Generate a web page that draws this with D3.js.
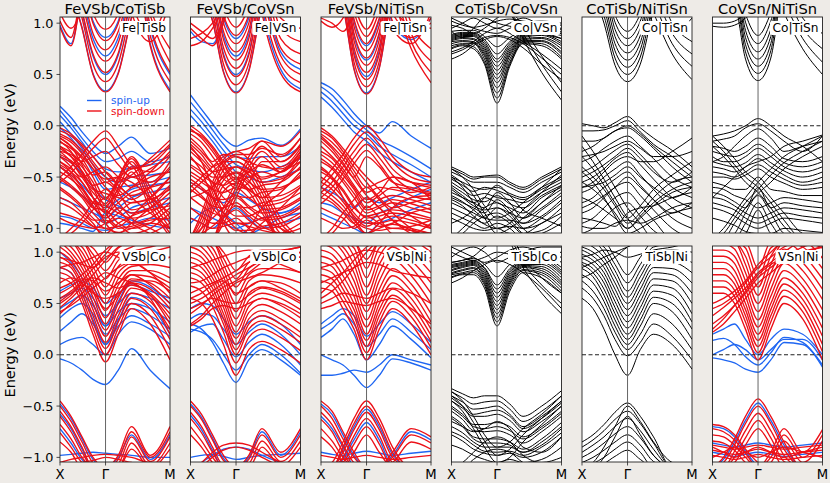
<!DOCTYPE html>
<html>
<head>
<meta charset="utf-8">
<script src="https://cdn.jsdelivr.net/npm/d3@7"></script>
<style>
  body { margin: 0; background: #eeebe7; }
  svg { display: block; font-family: "DejaVu Sans", sans-serif; }
</style>
</head>
<body>
<div id="chart"></div>
<script>
//--------------------------------------------------------------------------
//  Slab band structures, X - Γ - M, energies in eV
//--------------------------------------------------------------------------

// k-path sample positions (X = 0, Γ = 0.414, M = 1)
var kPath = [0, 0.1, 0.2, 0.3, 0.414, 0.53, 0.65, 0.82, 1.0];
var xTickPos = [0, 0.414, 1.0];
var xTickLabels = ["X", "Γ", "M"];
var yTicks = [1.0, 0.5, 0.0, -0.5, -1.0];
var titles = ["FeVSb/CoTiSb", "FeVSb/CoVSn", "FeVSb/NiTiSn", "CoTiSb/CoVSn", "CoTiSb/NiTiSn", "CoVSn/NiTiSn"];
var labels = ["Fe|TiSb", "Fe|VSn", "Fe|TiSn", "Co|VSn", "Co|TiSn", "Co|TiSn",
              "VSb|Co", "VSb|Co", "VSb|Ni", "TiSb|Co", "TiSb|Ni", "VSn|Ni"];
var legendLabels = ["spin-up", "spin-down"];

// ---- FeVSb/CoTiSb, Fe|TiSb
var p1Up = [
  [1.6,1.3,0.96,0.51,0.34,0.52,1.06,1.6,1.9],
  [1.8,1.5,1.1,0.68,0.5,0.69,1.23,1.8,1.9],
  [1.8,1.5,1.25,0.85,0.68,0.86,1.35,1.8,1.9],
  [1.8,1.6,1.4,1.02,0.86,1.02,1.52,1.8,1.9],
  [0.98,0.8,1.3,1.8,1.9,1.9,1.9,1.9,1.9],
  [1.9,1.9,1.9,1.9,1.9,1.9,1.85,0.8,0.35],
  [1.9,1.9,1.9,1.9,1.9,1.9,1.9,0.95,0.5],
  [0.19,0.08,-0.06,-0.18,-0.27,-0.2,-0.11,-0.27,-0.22],
  [0.15,0.02,-0.12,-0.25,-0.35,-0.32,-0.25,-0.35,-0.3],
  [0.10,-0.02,-0.16,-0.3,-0.42,-0.45,-0.4,-0.38,-0.35],
  [0.04,-0.08,-0.22,-0.38,-0.5,-0.55,-0.5,-0.48,-0.45],
  [-0.02,-0.12,-0.26,-0.45,-0.62,-0.6,-0.58,-0.55,-0.5],
  [-0.88,-0.9,-0.95,-1.0,-1.02,-0.98,-0.95,-0.9,-0.92],
  [-0.7,-0.75,-0.8,-0.85,-0.9,-0.8,-0.7,-0.65,-0.6],
  [-0.95,-0.97,-1.0,-1.03,-0.85,-0.88,-0.92,-0.97,-1.0],
  [-0.4,-0.48,-0.58,-0.7,-0.8,-0.72,-0.62,-0.58,-0.55],
  [-0.55,-0.6,-0.68,-0.78,-0.95,-0.9,-0.8,-0.75,-0.7],
  [-0.3,-0.36,-0.46,-0.6,-0.72,-0.78,-0.85,-0.8,-0.75]
];
var p1Dn = [
  [1.6,1.3,0.95,0.50,0.33,0.51,1.05,1.6,1.9],
  [1.7,1.4,1.05,0.60,0.43,0.61,1.15,1.7,1.9],
  [1.8,1.5,1.12,0.70,0.52,0.71,1.25,1.8,1.9],
  [1.8,1.5,1.2,0.80,0.63,0.81,1.3,1.8,1.9],
  [1.8,1.5,1.3,0.90,0.74,0.92,1.4,1.8,1.9],
  [1.8,1.6,1.4,1.0,0.83,1.0,1.5,1.8,1.9],
  [1.8,1.6,1.5,1.1,0.94,1.1,1.6,1.8,1.9],
  [0.96,0.78,1.3,1.8,1.9,1.9,1.9,1.9,1.9],
  [1.02,0.86,1.35,1.9,1.9,1.9,1.9,1.9,1.9],
  [1.1,0.95,1.2,1.9,1.9,1.9,1.9,1.9,1.9],
  [1.9,1.9,1.9,1.9,1.9,1.9,1.8,0.78,0.33],
  [1.9,1.9,1.9,1.9,1.9,1.9,1.9,0.88,0.43],
  [1.9,1.9,1.9,1.9,1.9,1.9,1.9,0.98,0.52],
  [1.9,1.9,1.9,1.9,1.9,1.9,1.9,1.08,0.62],
  [1.9,1.9,1.9,1.9,1.9,1.9,1.9,1.15,0.75],
  [1.9,1.9,1.9,1.9,1.9,1.6,1.1,0.82,1.2],
  [1.9,1.9,1.9,1.9,1.9,1.7,1.2,0.9,1.3],
  [-0.5,-0.4,-0.28,-0.15,-0.05,-0.2,-0.38,-0.45,-0.3],
  [-0.55,-0.46,-0.34,-0.22,-0.12,-0.27,-0.42,-0.35,-0.18],
  [-0.05,-0.1,-0.2,-0.35,-0.5,-0.62,-0.72,-0.6,-0.4],
  [-0.1,-0.16,-0.27,-0.42,-0.6,-0.68,-0.6,-0.45,-0.25],
  [-0.16,-0.22,-0.32,-0.5,-0.7,-0.55,-0.48,-0.32,-0.14],
  [-0.22,-0.3,-0.4,-0.55,-0.78,-0.62,-0.5,-0.55,-0.35],
  [-0.3,-0.36,-0.48,-0.62,-0.66,-0.7,-0.75,-0.7,-0.5],
  [-0.38,-0.45,-0.55,-0.7,-0.85,-0.75,-0.65,-0.6,-0.55],
  [-0.45,-0.52,-0.62,-0.78,-0.9,-0.8,-0.85,-0.8,-0.65],
  [-0.52,-0.6,-0.7,-0.85,-0.95,-0.9,-0.95,-0.9,-0.75],
  [-0.6,-0.68,-0.78,-0.9,-1.0,-0.98,-1.05,-1.0,-0.85],
  [-0.7,-0.75,-0.85,-0.95,-1.1,-1.05,-1.1,-1.05,-0.95],
  [-1.1,-1.0,-0.9,-0.75,-0.62,-0.75,-0.9,-1.0,-1.1],
  [-1.1,-1.05,-0.95,-0.82,-0.7,-0.82,-0.95,-1.05,-1.1],
  [-0.9,-0.95,-0.98,-1.0,-0.95,-0.85,-0.75,-0.72,-0.62],
  [-0.35,-0.42,-0.5,-0.45,-0.4,-0.5,-0.6,-0.5,-0.45],
  [-0.25,-0.28,-0.35,-0.3,-0.25,-0.38,-0.5,-0.42,-0.28],
  [-0.08,-0.14,-0.24,-0.38,-0.55,-0.5,-0.42,-0.38,-0.2],
  [-0.2,-0.26,-0.36,-0.48,-0.45,-0.58,-0.68,-0.6,-0.42],
  [-0.28,-0.34,-0.44,-0.58,-0.55,-0.65,-0.82,-0.75,-0.58],
  [-0.4,-0.48,-0.6,-0.75,-0.78,-0.85,-0.9,-0.85,-0.7],
  [-0.5,-0.58,-0.68,-0.8,-0.82,-0.95,-1.0,-0.95,-0.8],
  [-0.62,-0.7,-0.8,-0.92,-0.92,-1.0,-0.98,-0.92,-0.9],
  [-0.75,-0.8,-0.88,-0.98,-1.05,-0.95,-0.88,-0.82,-0.78],
  [-0.85,-0.88,-0.92,-0.98,-1.0,-1.04,-1.0,-0.95,-1.0],
  [-0.15,-0.25,-0.45,-0.7,-0.95,-1.05,-0.95,-0.8,-0.6],
  [-0.12,-0.2,-0.38,-0.6,-0.85,-0.98,-0.88,-0.7,-0.5],
  [-0.3,-0.4,-0.55,-0.7,-0.8,-0.55,-0.35,-0.7,-1.0],
  [-0.25,-0.35,-0.5,-0.65,-0.76,-0.52,-0.32,-0.65,-0.95],
  [-0.35,-0.45,-0.6,-0.75,-0.84,-0.6,-0.4,-0.75,-1.05],
  [-0.4,-0.5,-0.65,-0.8,-0.88,-0.65,-0.45,-0.8,-1.08],
  [-0.2,-0.3,-0.45,-0.6,-0.72,-0.5,-0.3,-0.6,-0.9],
  [-0.02,-0.08,-0.18,-0.3,-0.45,-0.58,-0.7,-0.85,-1.0],
  [-0.12,-0.2,-0.3,-0.42,-0.52,-0.5,-0.55,-0.7,-0.85]
];

// ---- FeVSb/CoVSn, Fe|VSn
var p2Up = [
  [1.6,1.3,1.03,0.53,0.33,0.54,1.2,1.8,1.9],
  [1.7,1.45,1.2,0.7,0.5,0.71,1.36,1.8,1.9],
  [1.8,1.5,1.38,0.88,0.68,0.89,1.52,1.8,1.9],
  [1.8,1.6,1.5,1.05,0.85,1.05,1.6,1.8,1.9],
  [0.92,0.82,0.8,1.02,1.5,1.9,1.9,1.9,1.9],
  [1.9,1.9,1.9,1.9,1.9,1.9,1.15,0.55,0.36],
  [1.9,1.9,1.9,1.9,1.9,1.9,1.35,0.72,0.55],
  [0.3,0.16,0.02,-0.12,-0.2,-0.14,-0.12,-0.19,-0.03],
  [0.23,0.1,-0.04,-0.18,-0.3,-0.32,-0.3,-0.3,-0.2],
  [0.16,0.04,-0.1,-0.24,-0.38,-0.42,-0.45,-0.4,-0.32],
  [0.1,-0.02,-0.15,-0.3,-0.45,-0.5,-0.55,-0.5,-0.42],
  [-0.8,-0.85,-0.9,-0.95,-1.0,-0.95,-0.9,-0.85,-0.8],
  [-0.9,-0.95,-1.0,-0.9,-0.8,-0.9,-1.0,-0.95,-0.9],
  [-0.95,-0.85,-0.8,-0.85,-0.95,-1.05,-1.0,-0.9,-0.85],
  [-0.55,-0.62,-0.7,-0.75,-0.65,-0.72,-0.8,-0.85,-0.75]
];
var p2Dn = [
  [1.6,1.3,1.02,0.52,0.32,0.53,1.18,1.8,1.9],
  [1.7,1.4,1.1,0.6,0.4,0.61,1.26,1.8,1.9],
  [1.7,1.45,1.18,0.68,0.48,0.69,1.34,1.8,1.9],
  [1.7,1.5,1.26,0.76,0.56,0.77,1.42,1.8,1.9],
  [1.8,1.5,1.34,0.84,0.64,0.85,1.5,1.8,1.9],
  [1.8,1.6,1.42,0.92,0.72,0.93,1.58,1.8,1.9],
  [1.8,1.6,1.5,1.0,0.8,1.0,1.6,1.8,1.9],
  [1.8,1.6,1.55,1.08,0.88,1.08,1.6,1.8,1.9],
  [1.8,1.6,1.6,1.16,0.96,1.16,1.6,1.8,1.9],
  [0.95,0.85,0.78,1.0,1.5,1.9,1.9,1.9,1.9],
  [1.0,0.92,0.85,1.05,1.6,1.9,1.9,1.9,1.9],
  [0.85,0.9,1.0,1.2,1.6,1.9,1.9,1.9,1.9],
  [0.78,0.82,0.95,1.15,1.5,1.9,1.9,1.9,1.9],
  [1.9,1.9,1.9,1.9,1.9,1.9,1.1,0.51,0.33],
  [1.9,1.9,1.9,1.9,1.9,1.9,1.2,0.6,0.42],
  [1.9,1.9,1.9,1.9,1.9,1.9,1.3,0.68,0.5],
  [1.9,1.9,1.9,1.9,1.9,1.9,1.4,0.76,0.6],
  [1.9,1.9,1.9,1.9,1.9,1.9,1.5,0.85,0.7],
  [1.9,1.9,1.9,1.9,1.9,1.9,1.6,0.95,0.82],
  [1.9,1.9,1.9,1.9,1.9,1.9,1.7,1.05,0.95],
  [0.0,-0.08,-0.2,-0.35,-0.5,-0.62,-0.7,-0.55,-0.35],
  [-0.03,-0.12,-0.25,-0.4,-0.55,-0.5,-0.45,-0.5,-0.3],
  [-0.6,-0.5,-0.4,-0.3,-0.25,-0.22,-0.15,-0.2,-0.05],
  [-0.65,-0.55,-0.45,-0.35,-0.28,-0.28,-0.22,-0.28,-0.12],
  [-0.08,-0.16,-0.3,-0.45,-0.62,-0.55,-0.35,-0.35,-0.2],
  [-0.12,-0.22,-0.35,-0.28,-0.3,-0.35,-0.4,-0.42,-0.25],
  [-0.18,-0.28,-0.4,-0.35,-0.35,-0.42,-0.5,-0.45,-0.35],
  [-0.25,-0.35,-0.45,-0.42,-0.4,-0.48,-0.55,-0.52,-0.42],
  [-0.32,-0.4,-0.5,-0.5,-0.46,-0.55,-0.62,-0.6,-0.5],
  [-0.4,-0.48,-0.55,-0.58,-0.52,-0.62,-0.7,-0.68,-0.58],
  [-0.48,-0.55,-0.62,-0.65,-0.6,-0.7,-0.78,-0.75,-0.65],
  [-0.55,-0.62,-0.7,-0.72,-0.68,-0.78,-0.85,-0.82,-0.72],
  [-0.62,-0.7,-0.78,-0.8,-0.75,-0.85,-0.92,-0.9,-0.8],
  [-0.7,-0.78,-0.85,-0.88,-0.82,-0.92,-1.0,-0.98,-0.88],
  [-0.8,-0.88,-0.95,-0.95,-0.9,-1.0,-1.08,-1.05,-0.95],
  [-1.1,-1.0,-0.9,-0.8,-0.7,-0.8,-0.9,-1.0,-1.1],
  [-1.1,-1.05,-0.98,-0.88,-0.78,-0.88,-0.98,-1.05,-1.1],
  [-0.3,-0.45,-0.7,-0.95,-1.1,-1.0,-0.8,-0.65,-0.45],
  [-0.2,-0.35,-0.6,-0.85,-1.0,-1.05,-0.95,-0.8,-0.6],
  [-0.05,-0.1,-0.22,-0.38,-0.52,-0.45,-0.38,-0.45,-0.25],
  [-0.15,-0.25,-0.38,-0.52,-0.58,-0.62,-0.58,-0.55,-0.4],
  [-0.22,-0.32,-0.45,-0.6,-0.68,-0.7,-0.65,-0.62,-0.48],
  [-0.38,-0.45,-0.55,-0.7,-0.78,-0.8,-0.75,-0.72,-0.6],
  [-0.45,-0.52,-0.62,-0.78,-0.88,-0.88,-0.82,-0.8,-0.7],
  [-0.52,-0.6,-0.7,-0.85,-0.95,-0.95,-0.9,-0.88,-0.78],
  [-0.58,-0.68,-0.8,-0.92,-1.02,-1.02,-0.98,-0.95,-0.85],
  [-0.9,-0.95,-1.0,-0.98,-0.95,-0.98,-1.02,-1.05,-1.0],
  [-0.7,-0.66,-0.6,-0.5,-0.4,-0.45,-0.52,-0.45,-0.3],
  [-1.1,-0.85,-0.55,-0.33,-0.25,-0.33,-0.55,-0.9,-1.1],
  [-1.1,-0.9,-0.6,-0.38,-0.3,-0.38,-0.6,-0.95,-1.1],
  [-1.1,-0.95,-0.65,-0.43,-0.35,-0.43,-0.65,-1.0,-1.1],
  [-1.1,-1.0,-0.7,-0.48,-0.4,-0.48,-0.7,-1.05,-1.1],
  [-1.1,-1.05,-0.75,-0.53,-0.45,-0.53,-0.75,-1.1,-1.1],
  [-1.1,-1.1,-0.8,-0.58,-0.5,-0.58,-0.8,-1.1,-1.1],
  [-1.1,-1.1,-0.85,-0.64,-0.56,-0.64,-0.85,-1.1,-1.1],
  [-1.1,-1.1,-1.1,-0.8,-0.55,-0.3,-0.15,-0.3,-0.12],
  [-1.1,-1.1,-1.1,-0.85,-0.6,-0.35,-0.2,-0.35,-0.18],
  [-1.1,-1.1,-1.1,-0.9,-0.65,-0.4,-0.25,-0.4,-0.22],
  [-1.1,-1.1,-1.1,-0.95,-0.7,-0.45,-0.3,-0.45,-0.28]
];

// ---- FeVSb/NiTiSn, Fe|TiSn
var p3Up = [
  [1.6,1.4,1.17,0.56,0.32,0.57,1.32,1.8,1.9],
  [1.7,1.5,1.32,0.72,0.48,0.73,1.48,1.8,1.9],
  [1.8,1.6,1.5,0.88,0.64,0.89,1.6,1.8,1.9],
  [1.8,1.6,1.6,1.02,0.78,1.03,1.6,1.8,1.9],
  [1.9,1.9,1.9,1.9,1.9,1.55,1.0,0.84,1.05],
  [0.42,0.36,0.25,0.12,0.0,-0.07,0.04,-0.1,-0.22],
  [0.38,0.3,0.18,0.06,-0.04,-0.14,-0.2,-0.3,-0.42],
  [0.33,0.24,0.12,0.0,-0.08,-0.2,-0.28,-0.38,-0.5],
  [0.28,0.18,0.06,-0.06,-0.15,-0.26,-0.35,-0.45,-0.55],
  [-0.75,-0.78,-0.85,-0.9,-0.95,-0.85,-0.8,-0.7,-0.62],
  [-0.85,-0.9,-0.95,-1.0,-1.05,-0.95,-0.9,-0.82,-0.75],
  [-0.6,-0.65,-0.72,-0.8,-0.7,-0.75,-0.7,-0.62,-0.55]
];
var p3Dn = [
  [1.6,1.4,1.16,0.55,0.31,0.56,1.31,1.8,1.9],
  [1.7,1.45,1.23,0.62,0.38,0.63,1.38,1.8,1.9],
  [1.7,1.5,1.3,0.69,0.45,0.7,1.45,1.8,1.9],
  [1.7,1.5,1.37,0.76,0.52,0.77,1.52,1.8,1.9],
  [1.8,1.6,1.44,0.83,0.59,0.84,1.59,1.8,1.9],
  [1.8,1.6,1.5,0.9,0.66,0.91,1.6,1.8,1.9],
  [1.8,1.6,1.55,0.97,0.73,0.98,1.6,1.8,1.9],
  [1.8,1.6,1.6,1.04,0.8,1.05,1.6,1.8,1.9],
  [1.8,1.6,1.6,1.11,0.87,1.12,1.6,1.8,1.9],
  [1.8,1.6,1.6,1.18,0.94,1.19,1.6,1.8,1.9],
  [1.02,0.96,1.05,1.3,1.6,1.9,1.9,1.9,1.9],
  [1.05,1.0,0.92,1.1,1.5,1.9,1.9,1.9,1.9],
  [1.9,1.9,1.9,1.9,1.9,1.5,0.95,0.8,1.1],
  [1.9,1.9,1.9,1.9,1.9,1.6,1.02,0.86,1.05],
  [1.9,1.9,1.9,1.9,1.9,1.7,1.1,0.92,1.0],
  [1.9,1.9,1.9,1.9,1.9,1.8,1.18,0.98,0.95],
  [1.9,1.9,1.9,1.9,1.9,1.9,1.3,0.75,0.42],
  [1.9,1.9,1.9,1.9,1.9,1.9,1.4,0.82,0.52],
  [1.9,1.9,1.9,1.9,1.9,1.9,1.5,0.9,0.63],
  [1.9,1.9,1.9,1.9,1.9,1.9,1.6,1.0,0.75],
  [-0.55,-0.42,-0.28,-0.12,0.0,-0.12,-0.3,-0.45,-0.5],
  [-0.6,-0.48,-0.34,-0.18,-0.06,-0.18,-0.35,-0.5,-0.55],
  [-0.65,-0.55,-0.4,-0.25,-0.12,-0.25,-0.42,-0.55,-0.6],
  [-0.7,-0.6,-0.46,-0.31,-0.18,-0.31,-0.48,-0.62,-0.66],
  [-0.76,-0.66,-0.52,-0.37,-0.24,-0.37,-0.54,-0.68,-0.72],
  [-0.05,-0.12,-0.25,-0.4,-0.55,-0.7,-0.8,-0.75,-0.7],
  [-0.1,-0.2,-0.32,-0.48,-0.65,-0.6,-0.62,-0.65,-0.6],
  [-0.15,-0.25,-0.38,-0.5,-0.3,-0.4,-0.55,-0.6,-0.65],
  [-0.2,-0.3,-0.42,-0.58,-0.72,-0.65,-0.5,-0.55,-0.72],
  [-0.28,-0.36,-0.48,-0.62,-0.8,-0.72,-0.68,-0.72,-0.78],
  [-0.35,-0.42,-0.55,-0.7,-0.85,-0.8,-0.75,-0.8,-0.85],
  [-0.42,-0.5,-0.62,-0.78,-0.9,-0.88,-0.85,-0.88,-0.92],
  [-0.5,-0.58,-0.7,-0.85,-0.95,-0.95,-0.92,-0.95,-1.0],
  [-0.6,-0.68,-0.78,-0.92,-1.0,-1.02,-1.0,-1.02,-1.05],
  [-1.1,-1.0,-0.85,-0.72,-0.6,-0.72,-0.85,-1.0,-1.1],
  [-1.1,-1.05,-0.92,-0.8,-0.7,-0.8,-0.92,-1.05,-1.1],
  [-0.7,-0.75,-0.85,-0.95,-0.78,-0.9,-1.05,-1.05,-0.95],
  [-0.8,-0.85,-0.9,-1.0,-0.92,-0.98,-0.95,-0.85,-0.8],
  [-0.08,-0.16,-0.28,-0.44,-0.6,-0.55,-0.5,-0.55,-0.58],
  [-0.25,-0.32,-0.45,-0.6,-0.75,-0.68,-0.6,-0.62,-0.68],
  [-0.32,-0.4,-0.52,-0.66,-0.82,-0.78,-0.72,-0.76,-0.82],
  [-0.45,-0.52,-0.64,-0.8,-0.88,-0.85,-0.82,-0.85,-0.9],
  [-0.55,-0.62,-0.74,-0.88,-0.98,-0.92,-0.88,-0.92,-0.98],
  [-0.65,-0.72,-0.82,-0.95,-1.05,-1.0,-0.96,-1.0,-1.05],
  [-0.9,-0.95,-1.0,-0.98,-0.88,-0.95,-1.0,-0.98,-0.92],
  [-0.4,-0.5,-0.7,-0.9,-1.05,-0.95,-0.8,-0.7,-0.68],
  [-0.02,-0.1,-0.22,-0.36,-0.5,-0.62,-0.75,-0.88,-1.0],
  [-0.12,-0.22,-0.36,-0.52,-0.68,-0.8,-0.92,-1.02,-1.1]
];

// ---- CoTiSb/CoVSn, Co|VSn
var p4 = [
  [0.75,0.78,0.75,0.6,0.22,0.58,0.8,0.78,0.65],
  [0.78,0.8,0.8,0.65,0.32,0.62,0.82,0.82,0.7],
  [0.82,0.83,0.82,0.7,0.42,0.68,0.84,0.85,0.75],
  [0.84,0.86,0.85,0.74,0.5,0.72,0.86,0.88,0.8],
  [0.86,0.88,0.88,0.78,0.58,0.76,0.88,0.9,0.85],
  [0.88,0.9,0.9,0.82,0.65,0.8,0.9,0.92,0.9],
  [0.76,0.79,0.77,0.62,0.27,0.6,0.81,0.8,0.67],
  [0.8,0.82,0.81,0.68,0.37,0.65,0.83,0.83,0.72],
  [0.83,0.85,0.84,0.72,0.46,0.7,0.85,0.86,0.78],
  [0.85,0.87,0.87,0.76,0.54,0.74,0.87,0.89,0.82],
  [0.87,0.89,0.89,0.8,0.62,0.78,0.89,0.91,0.88],
  [0.89,0.91,0.91,0.84,0.7,0.82,0.91,0.93,0.92],
  [0.92,0.93,0.93,0.87,0.77,0.86,0.93,0.95,0.94],
  [0.65,0.7,0.78,0.84,0.87,0.84,0.76,0.6,0.45],
  [0.7,0.74,0.8,0.86,0.88,0.86,0.8,0.66,0.5],
  [0.72,0.76,0.82,0.9,0.95,0.9,0.82,0.7,0.55],
  [1.4,1.4,1.4,1.3,1.2,1.1,0.85,0.52,0.25],
  [1.4,1.4,1.4,1.3,1.2,1.1,0.9,0.6,0.33],
  [1.4,1.4,1.4,1.3,1.2,1.1,0.95,0.68,0.42],
  [1.05,1.0,0.95,0.92,0.9,0.95,1.0,1.02,1.0],
  [0.95,1.0,1.05,1.0,0.95,1.0,1.05,0.98,0.95],
  [0.92,0.86,0.95,1.05,1.0,0.97,0.95,0.9,0.85],
  [0.98,0.95,0.9,0.95,1.05,1.1,1.0,0.95,0.9],
  [1.02,0.98,0.96,0.98,1.02,1.04,1.02,1.0,0.98],
  [-0.4,-0.45,-0.5,-0.49,-0.48,-0.55,-0.6,-0.5,-0.4],
  [-0.45,-0.5,-0.55,-0.55,-0.55,-0.6,-0.65,-0.55,-0.45],
  [-0.5,-0.55,-0.6,-0.62,-0.6,-0.66,-0.7,-0.6,-0.5],
  [-0.55,-0.62,-0.68,-0.66,-0.7,-0.72,-0.75,-0.65,-0.55],
  [-0.6,-0.68,-0.75,-0.7,-0.75,-0.8,-0.85,-0.7,-0.6],
  [-0.42,-0.5,-0.62,-0.78,-0.9,-0.85,-0.75,-0.6,-0.42],
  [-0.48,-0.56,-0.68,-0.85,-1.0,-0.95,-0.82,-0.65,-0.48],
  [-0.65,-0.7,-0.75,-0.8,-0.65,-0.75,-0.9,-0.8,-0.65],
  [-0.7,-0.75,-0.8,-0.85,-0.72,-0.82,-0.95,-0.88,-0.72],
  [-0.75,-0.8,-0.85,-0.9,-0.8,-0.88,-1.0,-0.95,-0.8],
  [-0.8,-0.85,-0.9,-0.95,-0.88,-0.95,-1.05,-1.02,-0.88],
  [-0.85,-0.9,-0.95,-1.0,-0.95,-1.0,-1.1,-1.05,-0.95],
  [-1.1,-1.0,-0.9,-0.8,-0.75,-0.85,-1.0,-1.1,-1.1],
  [-1.1,-1.05,-0.95,-0.88,-0.85,-0.92,-1.05,-1.1,-1.1],
  [-0.9,-0.95,-1.0,-1.02,-1.0,-1.05,-1.05,-0.95,-0.85],
  [-0.42,-0.47,-0.52,-0.5,-0.5,-0.57,-0.62,-0.52,-0.42],
  [-0.52,-0.58,-0.64,-0.6,-0.63,-0.68,-0.72,-0.62,-0.52],
  [-0.58,-0.65,-0.72,-0.74,-0.68,-0.76,-0.8,-0.68,-0.58],
  [-0.62,-0.7,-0.78,-0.82,-0.8,-0.85,-0.9,-0.75,-0.62],
  [-0.68,-0.74,-0.82,-0.9,-0.92,-0.92,-0.95,-0.82,-0.68],
  [-0.72,-0.78,-0.88,-0.96,-1.0,-0.98,-1.0,-0.9,-0.75],
  [-0.5,-0.6,-0.75,-0.9,-1.05,-1.0,-0.9,-0.75,-0.58],
  [-0.95,-0.9,-0.82,-0.7,-0.58,-0.68,-0.82,-0.9,-0.98]
];

// ---- CoTiSb/NiTiSn, Co|TiSn
var p5 = [
  [1.5,1.3,1.0,0.59,0.43,0.6,1.12,1.5,1.5],
  [1.5,1.3,1.07,0.66,0.5,0.67,1.19,1.5,1.5],
  [1.5,1.3,1.14,0.73,0.57,0.74,1.26,1.5,1.5],
  [1.5,1.4,1.21,0.8,0.64,0.81,1.33,1.5,1.5],
  [1.5,1.4,1.28,0.87,0.71,0.88,1.4,1.5,1.5],
  [1.5,1.4,1.35,0.94,0.78,0.95,1.45,1.5,1.5],
  [1.5,1.4,1.42,1.01,0.85,1.02,1.5,1.5,1.5],
  [1.5,1.4,1.45,1.08,0.92,1.09,1.5,1.5,1.5],
  [1.5,1.5,1.5,1.5,1.5,1.4,1.1,0.7,0.45],
  [1.5,1.5,1.5,1.5,1.5,1.4,1.2,0.8,0.58],
  [1.5,1.5,1.5,1.5,1.5,1.4,1.3,0.9,0.7],
  [1.5,1.5,1.5,1.5,1.5,1.4,1.4,1.0,0.82],
  [1.5,1.5,1.5,1.5,1.5,1.3,1.0,0.9,1.05],
  [0.02,0.0,-0.02,0.03,0.09,-0.02,-0.12,-0.24,-0.4],
  [-0.05,-0.05,-0.04,0.0,0.05,-0.06,-0.18,-0.3,-0.45],
  [-0.6,-0.55,-0.45,-0.35,-0.3,-0.35,-0.35,-0.25,-0.12],
  [-0.25,-0.2,-0.12,-0.05,-0.02,-0.1,-0.22,-0.4,-0.55],
  [-0.35,-0.3,-0.22,-0.15,-0.1,-0.2,-0.32,-0.5,-0.6],
  [-0.45,-0.4,-0.32,-0.24,-0.18,-0.28,-0.42,-0.6,-0.7],
  [-0.55,-0.5,-0.42,-0.32,-0.26,-0.38,-0.52,-0.7,-0.8],
  [-0.65,-0.6,-0.5,-0.42,-0.35,-0.48,-0.62,-0.8,-0.9],
  [-0.75,-0.7,-0.6,-0.52,-0.45,-0.58,-0.72,-0.9,-1.0],
  [-0.85,-0.8,-0.7,-0.6,-0.55,-0.68,-0.82,-1.0,-1.1],
  [-0.95,-0.9,-0.8,-0.7,-0.65,-0.78,-0.92,-1.1,-1.1],
  [-1.05,-1.0,-0.9,-0.8,-0.75,-0.88,-1.02,-1.1,-1.1],
  [-0.1,-0.25,-0.42,-0.6,-0.8,-0.95,-1.1,-1.1,-1.1],
  [-0.2,-0.35,-0.52,-0.7,-0.9,-1.05,-1.1,-1.1,-1.1],
  [-0.4,-0.5,-0.62,-0.78,-0.95,-0.85,-0.7,-0.55,-0.5],
  [-0.7,-0.75,-0.82,-0.9,-1.0,-0.88,-0.75,-0.62,-0.55],
  [-0.9,-0.92,-0.95,-0.98,-0.85,-0.8,-0.78,-0.7,-0.65],
  [-0.15,-0.15,-0.12,-0.05,0.0,-0.08,-0.2,-0.35,-0.5],
  [-0.3,-0.28,-0.25,-0.2,-0.15,-0.22,-0.3,-0.3,-0.25],
  [-0.5,-0.45,-0.38,-0.3,-0.22,-0.32,-0.45,-0.55,-0.45],
  [-0.6,-0.58,-0.55,-0.48,-0.4,-0.5,-0.6,-0.7,-0.6],
  [-0.8,-0.75,-0.68,-0.6,-0.5,-0.6,-0.72,-0.85,-0.75],
  [-0.3,-0.42,-0.58,-0.75,-0.9,-0.78,-0.62,-0.48,-0.35],
  [-0.55,-0.62,-0.72,-0.85,-1.0,-0.9,-0.78,-0.65,-0.6],
  [-0.98,-1.0,-1.0,-0.95,-0.92,-0.95,-0.9,-0.8,-0.75],
  [-0.45,-0.55,-0.7,-0.88,-1.05,-1.0,-0.92,-0.85,-0.8]
];

// ---- CoVSn/NiTiSn, Co|TiSn
var p6 = [
  [1.5,1.3,1.2,0.65,0.44,0.66,1.36,1.5,1.5],
  [1.5,1.3,1.27,0.72,0.51,0.73,1.43,1.5,1.5],
  [1.5,1.4,1.34,0.79,0.58,0.8,1.5,1.5,1.5],
  [1.5,1.4,1.41,0.86,0.65,0.87,1.5,1.5,1.5],
  [1.5,1.4,1.48,0.93,0.72,0.94,1.5,1.5,1.5],
  [1.5,1.4,1.5,1.01,0.8,1.02,1.5,1.5,1.5],
  [1.5,1.4,1.5,1.09,0.88,1.1,1.5,1.5,1.5],
  [0.97,0.96,0.98,1.05,1.2,1.5,1.5,1.5,1.5],
  [1.0,1.0,1.02,1.1,1.3,1.5,1.5,1.5,1.5],
  [1.5,1.5,1.5,1.5,1.5,1.4,1.1,0.75,0.5],
  [1.5,1.5,1.5,1.5,1.5,1.4,1.2,0.85,0.62],
  [1.5,1.5,1.5,1.5,1.5,1.4,1.3,0.95,0.75],
  [1.5,1.5,1.5,1.5,1.5,1.4,1.4,1.05,0.9],
  [-0.1,-0.08,-0.05,0.0,0.07,0.0,-0.1,-0.2,-0.35],
  [-0.15,-0.13,-0.1,-0.02,0.02,-0.05,-0.15,-0.25,-0.1],
  [-0.35,-0.3,-0.2,-0.1,-0.03,-0.12,-0.25,-0.2,-0.15],
  [-0.2,-0.22,-0.25,-0.2,-0.12,-0.2,-0.32,-0.35,-0.3],
  [-0.3,-0.35,-0.35,-0.3,-0.22,-0.3,-0.4,-0.45,-0.4],
  [-0.4,-0.42,-0.45,-0.4,-0.32,-0.4,-0.48,-0.55,-0.5],
  [-0.5,-0.5,-0.52,-0.48,-0.42,-0.5,-0.56,-0.62,-0.6],
  [-0.1,-0.2,-0.32,-0.45,-0.55,-0.7,-0.85,-1.05,-1.1],
  [-0.15,-0.25,-0.38,-0.5,-0.6,-0.75,-0.92,-1.1,-1.1],
  [-1.1,-1.0,-0.85,-0.7,-0.55,-0.42,-0.3,-0.2,-0.1],
  [-1.1,-1.05,-0.9,-0.75,-0.62,-0.48,-0.36,-0.25,-0.15],
  [-1.1,-1.1,-1.05,-0.85,-0.68,-0.85,-1.05,-1.1,-1.1],
  [-1.1,-1.1,-1.1,-0.95,-0.75,-0.95,-1.1,-1.1,-1.1],
  [-0.6,-0.62,-0.68,-0.72,-0.8,-0.75,-0.7,-0.72,-0.75],
  [-0.7,-0.72,-0.78,-0.85,-0.9,-0.85,-0.8,-0.82,-0.85],
  [-0.8,-0.83,-0.88,-0.95,-1.0,-0.95,-0.9,-0.92,-0.95],
  [-0.9,-0.93,-0.97,-1.03,-1.05,-1.05,-1.0,-1.02,-1.04],
  [-0.7,-0.6,-0.5,-0.4,-0.35,-0.3,-0.2,-0.15,-0.09],
  [-0.25,-0.28,-0.3,-0.26,-0.18,-0.26,-0.36,-0.4,-0.35],
  [-0.35,-0.38,-0.4,-0.36,-0.28,-0.36,-0.44,-0.5,-0.45],
  [-0.45,-0.47,-0.5,-0.45,-0.38,-0.45,-0.52,-0.58,-0.55],
  [-0.55,-0.58,-0.62,-0.62,-0.5,-0.62,-0.64,-0.68,-0.68],
  [-0.65,-0.68,-0.74,-0.8,-0.6,-0.8,-0.75,-0.78,-0.8],
  [-0.2,-0.3,-0.42,-0.55,-0.65,-0.8,-0.98,-1.1,-1.1],
  [-1.1,-1.1,-0.95,-0.8,-0.66,-0.55,-0.42,-0.3,-0.2],
  [-1.1,-1.1,-1.1,-1.05,-0.82,-1.05,-1.1,-1.1,-1.1],
  [-0.75,-0.78,-0.82,-0.9,-0.95,-0.9,-0.85,-0.88,-0.9]
];

// ---- FeVSb/CoTiSb, VSb|Co
var p7Up = [
  [-0.04,-0.08,-0.15,-0.24,-0.29,-0.15,0.06,-0.15,-0.33],
  [0.1,0.15,0.17,0.1,0.0,0.2,0.32,0.25,0.1],
  [0.23,0.32,0.4,0.3,0.1,0.28,0.38,0.3,0.18],
  [0.36,0.45,0.5,0.4,0.2,0.35,0.45,0.38,0.25],
  [0.45,0.52,0.58,0.48,0.28,0.42,0.5,0.45,0.32],
  [0.85,0.8,0.6,0.34,0.1,0.34,0.56,0.48,0.2],
  [1.0,0.9,0.75,0.5,0.28,0.52,0.72,0.66,0.5],
  [0.55,0.6,0.65,0.55,0.38,0.5,0.6,0.55,0.45],
  [0.62,0.68,0.72,0.65,0.5,0.6,0.68,0.62,0.55],
  [-0.48,-0.62,-0.82,-1.02,-1.1,-1.1,-1.1,-1.1,-1.1],
  [-0.58,-0.72,-0.92,-1.1,-1.1,-1.1,-1.1,-1.1,-1.1],
  [-0.72,-0.86,-1.02,-1.1,-1.1,-1.1,-1.1,-1.1,-1.1],
  [-1.1,-1.1,-1.1,-1.1,-1.1,-1.0,-0.78,-1.02,-0.78],
  [-0.98,-0.97,-0.96,-0.95,-0.96,-0.97,-0.98,-1.0,-1.0]
];
var p7Dn = [
  [-0.45,-0.6,-0.8,-1.0,-1.1,-1.1,-1.1,-1.1,-1.1],
  [-0.5,-0.65,-0.85,-1.05,-1.1,-1.1,-1.1,-1.1,-1.1],
  [-0.55,-0.7,-0.9,-1.1,-1.1,-1.1,-1.1,-1.1,-1.1],
  [-0.6,-0.75,-0.95,-1.1,-1.1,-1.1,-1.1,-1.1,-1.1],
  [-0.68,-0.82,-1.0,-1.1,-1.1,-1.1,-1.1,-1.1,-1.1],
  [-0.76,-0.9,-1.05,-1.1,-1.1,-1.1,-1.1,-1.1,-1.1],
  [-0.85,-0.95,-1.1,-1.1,-1.1,-1.1,-1.1,-1.1,-1.1],
  [-1.05,-1.02,-1.0,-0.98,-0.97,-0.98,-1.0,-1.05,-1.05],
  [-1.1,-1.08,-1.05,-1.03,-1.0,-1.02,-1.05,-1.08,-1.1],
  [-1.1,-1.1,-1.1,-1.1,-1.1,-0.98,-0.7,-0.98,-0.7],
  [-1.1,-1.1,-1.1,-1.1,-1.1,-1.02,-0.75,-1.0,-0.75],
  [-1.1,-1.1,-1.1,-1.1,-1.1,-1.06,-0.8,-1.04,-0.8],
  [-1.1,-1.1,-1.1,-1.1,-1.1,-1.1,-0.86,-1.08,-0.86],
  [-1.1,-1.1,-1.1,-1.1,-1.1,-1.1,-0.92,-1.1,-0.92],
  [0.75,0.7,0.5,0.2,-0.07,0.2,0.45,0.3,-0.05],
  [0.8,0.75,0.55,0.26,0.0,0.26,0.5,0.38,0.05],
  [0.85,0.8,0.6,0.32,0.06,0.32,0.55,0.45,0.15],
  [0.9,0.85,0.65,0.38,0.12,0.38,0.6,0.52,0.25],
  [0.95,0.88,0.7,0.44,0.18,0.44,0.65,0.58,0.35],
  [1.0,0.92,0.75,0.5,0.24,0.5,0.7,0.64,0.45],
  [1.05,0.96,0.8,0.56,0.3,0.56,0.74,0.7,0.55],
  [1.1,1.0,0.85,0.62,0.36,0.62,0.78,0.76,0.65],
  [1.1,1.05,0.9,0.68,0.43,0.68,0.82,0.82,0.75],
  [1.1,1.1,0.95,0.74,0.5,0.74,0.86,0.88,0.85],
  [1.1,1.1,1.0,0.8,0.58,0.8,0.9,0.94,0.95],
  [1.1,1.1,1.05,0.86,0.66,0.86,0.95,1.0,1.05],
  [1.1,1.1,1.1,0.92,0.74,0.92,1.0,1.05,1.1],
  [1.1,1.1,1.1,0.98,0.82,0.98,1.05,1.1,1.1],
  [1.1,1.1,1.1,1.04,0.9,1.04,1.1,1.1,1.1],
  [0.46,0.55,0.66,0.78,0.92,1.05,1.1,1.1,1.1],
  [0.55,0.62,0.72,0.84,0.98,1.1,1.1,1.1,1.1],
  [0.65,0.7,0.78,0.88,1.02,1.1,1.1,1.1,1.1],
  [0.4,0.5,0.6,0.7,0.8,0.75,0.7,0.6,0.4],
  [0.7,0.75,0.7,0.6,0.55,0.6,0.68,0.58,0.3],
  [0.5,0.58,0.7,0.75,0.7,0.65,0.7,0.55,0.2],
  [0.6,0.66,0.74,0.72,0.62,0.7,0.78,0.68,0.5],
  [0.42,0.48,0.56,0.65,0.75,0.85,0.9,0.8,0.6],
  [0.85,0.88,0.9,0.95,1.0,0.95,0.88,0.9,0.95],
  [0.95,0.92,0.88,0.85,0.95,1.0,0.92,0.8,0.7],
  [0.52,0.6,0.68,0.62,0.45,0.58,0.72,0.72,0.62]
];

// ---- FeVSb/CoVSn, VSb|Co
var p8Up = [
  [0.3,0.25,0.12,-0.08,-0.27,-0.05,0.05,-0.05,-0.2],
  [0.25,0.22,0.15,0.0,-0.15,0.0,0.1,0.0,-0.18],
  [0.22,0.28,0.3,0.15,-0.02,0.12,0.2,0.1,-0.1],
  [0.35,0.4,0.38,0.25,0.1,0.22,0.3,0.2,0.0],
  [0.45,0.5,0.48,0.35,0.2,0.32,0.38,0.3,0.1],
  [-0.48,-0.61,-0.81,-1.01,-1.1,-1.1,-1.1,-1.1,-1.1],
  [-0.59,-0.73,-0.93,-1.1,-1.1,-1.1,-1.1,-1.1,-1.1],
  [-1.1,-1.05,-0.98,-0.92,-0.9,-0.92,-0.98,-1.05,-1.1],
  [-1.1,-1.1,-1.1,-1.1,-1.1,-1.0,-0.75,-0.98,-0.75],
  [-1.0,-0.98,-0.97,-0.99,-1.02,-1.0,-0.98,-0.97,-0.96]
];
var p8Dn = [
  [-0.45,-0.58,-0.78,-0.98,-1.1,-1.1,-1.1,-1.1,-1.1],
  [-0.5,-0.63,-0.83,-1.03,-1.1,-1.1,-1.1,-1.1,-1.1],
  [-0.56,-0.7,-0.9,-1.08,-1.1,-1.1,-1.1,-1.1,-1.1],
  [-0.62,-0.76,-0.95,-1.1,-1.1,-1.1,-1.1,-1.1,-1.1],
  [-0.7,-0.84,-1.0,-1.1,-1.1,-1.1,-1.1,-1.1,-1.1],
  [-0.78,-0.9,-1.05,-1.1,-1.1,-1.1,-1.1,-1.1,-1.1],
  [-1.1,-1.05,-0.95,-0.88,-0.86,-0.88,-0.95,-1.05,-1.1],
  [-1.1,-1.08,-1.0,-0.93,-0.9,-0.93,-1.0,-1.08,-1.1],
  [-1.1,-1.1,-1.1,-1.1,-1.1,-0.98,-0.72,-0.95,-0.72],
  [-1.1,-1.1,-1.1,-1.1,-1.1,-1.02,-0.78,-1.0,-0.78],
  [-1.1,-1.1,-1.1,-1.1,-1.1,-1.06,-0.84,-1.04,-0.84],
  [-1.1,-1.1,-1.1,-1.1,-1.1,-1.1,-0.9,-1.08,-0.9],
  [0.55,0.5,0.35,0.1,-0.2,0.05,0.13,0.05,-0.08],
  [0.67,0.62,0.47,0.22,-0.08,0.17,0.25,0.17,0.04],
  [0.75,0.7,0.55,0.3,0.0,0.25,0.33,0.25,0.12],
  [0.8,0.75,0.6,0.35,0.05,0.3,0.38,0.3,0.17],
  [0.85,0.8,0.65,0.4,0.1,0.35,0.43,0.35,0.22],
  [0.9,0.85,0.7,0.46,0.16,0.41,0.49,0.42,0.3],
  [0.95,0.9,0.75,0.52,0.22,0.47,0.55,0.48,0.36],
  [1.0,0.95,0.8,0.58,0.28,0.53,0.6,0.55,0.44],
  [1.05,1.0,0.86,0.64,0.35,0.6,0.66,0.62,0.52],
  [1.1,1.05,0.92,0.7,0.42,0.66,0.72,0.7,0.6],
  [1.1,1.1,0.98,0.76,0.5,0.72,0.78,0.76,0.7],
  [1.1,1.1,1.04,0.82,0.58,0.78,0.84,0.84,0.8],
  [1.1,1.1,1.1,0.88,0.66,0.84,0.9,0.9,0.9],
  [1.1,1.1,1.1,0.94,0.74,0.9,0.96,0.96,1.0],
  [1.1,1.1,1.1,1.0,0.82,0.96,1.02,1.02,1.05],
  [0.3,0.38,0.5,0.6,0.7,0.75,0.8,0.9,1.0],
  [0.4,0.48,0.58,0.66,0.72,0.8,0.9,1.0,1.05],
  [0.5,0.55,0.62,0.7,0.78,0.85,0.92,0.98,0.9],
  [0.6,0.65,0.7,0.75,0.82,0.9,0.95,0.88,0.8],
  [0.28,0.35,0.45,0.48,0.45,0.5,0.55,0.5,0.4],
  [0.45,0.5,0.55,0.52,0.5,0.58,0.65,0.6,0.5],
  [0.7,0.72,0.78,0.85,0.9,0.95,0.98,0.95,0.9],
  [0.85,0.88,0.92,0.96,1.0,1.02,1.0,0.98,0.95],
  [0.55,0.6,0.68,0.72,0.6,0.66,0.72,0.65,0.55]
];

// ---- FeVSb/NiTiSn, VSb|Ni
var p9Up = [
  [-0.2,-0.2,-0.18,-0.15,-0.17,-0.1,0.0,-0.05,-0.1],
  [0.0,-0.05,-0.1,-0.2,-0.32,-0.2,-0.04,-0.08,-0.15],
  [0.17,0.25,0.35,0.2,-0.05,0.1,0.28,0.15,-0.03],
  [0.25,0.32,0.4,0.3,0.08,0.2,0.35,0.22,0.05],
  [0.3,0.38,0.45,0.38,0.18,0.3,0.42,0.3,0.12],
  [-0.48,-0.58,-0.78,-0.98,-1.1,-1.1,-1.1,-1.1,-1.1],
  [-0.6,-0.72,-0.9,-1.08,-1.1,-1.1,-1.1,-1.1,-1.1],
  [-1.1,-1.1,-0.92,-0.7,-0.53,-0.7,-0.97,-1.1,-1.1],
  [-1.1,-1.1,-1.02,-0.83,-0.66,-0.83,-1.08,-1.1,-1.1],
  [-1.1,-1.1,-1.1,-1.1,-1.1,-1.1,-0.98,-0.75,-0.83],
  [-0.95,-0.97,-0.98,-0.96,-0.94,-0.96,-0.98,-0.96,-0.94]
];
var p9Dn = [
  [-1.1,-1.05,-0.85,-0.62,-0.45,-0.62,-0.9,-1.1,-1.1],
  [-1.1,-1.1,-0.9,-0.67,-0.5,-0.67,-0.95,-1.1,-1.1],
  [-1.1,-1.1,-0.95,-0.73,-0.56,-0.73,-1.0,-1.1,-1.1],
  [-1.1,-1.1,-1.0,-0.79,-0.62,-0.79,-1.05,-1.1,-1.1],
  [-1.1,-1.1,-1.05,-0.87,-0.7,-0.87,-1.1,-1.1,-1.1],
  [-1.1,-1.1,-1.1,-0.95,-0.78,-0.95,-1.1,-1.1,-1.1],
  [-0.45,-0.55,-0.75,-0.95,-1.1,-1.1,-1.1,-1.1,-1.1],
  [-0.5,-0.62,-0.82,-1.0,-1.1,-1.1,-1.1,-1.1,-1.1],
  [-0.56,-0.68,-0.88,-1.05,-1.1,-1.1,-1.1,-1.1,-1.1],
  [-0.63,-0.75,-0.95,-1.1,-1.1,-1.1,-1.1,-1.1,-1.1],
  [-0.72,-0.84,-1.0,-1.1,-1.1,-1.1,-1.1,-1.1,-1.1],
  [-0.8,-0.9,-1.05,-1.1,-1.1,-1.1,-1.1,-1.1,-1.1],
  [-1.1,-1.1,-1.1,-1.1,-1.1,-1.1,-0.95,-0.72,-0.8],
  [-1.1,-1.1,-1.1,-1.1,-1.1,-1.1,-1.0,-0.78,-0.86],
  [-1.1,-1.1,-1.1,-1.1,-1.1,-1.1,-1.05,-0.85,-0.92],
  [-0.98,-1.0,-1.02,-1.0,-0.98,-1.0,-1.02,-1.0,-0.98],
  [0.65,0.62,0.45,0.25,-0.05,0.25,0.45,0.3,0.0],
  [0.72,0.68,0.52,0.32,0.02,0.32,0.52,0.37,0.07],
  [0.78,0.74,0.58,0.38,0.08,0.38,0.58,0.43,0.13],
  [0.84,0.8,0.64,0.44,0.14,0.44,0.64,0.49,0.19],
  [0.9,0.86,0.7,0.5,0.2,0.5,0.7,0.55,0.25],
  [0.96,0.92,0.77,0.57,0.27,0.57,0.77,0.62,0.32],
  [1.02,0.98,0.84,0.64,0.34,0.64,0.84,0.69,0.4],
  [1.08,1.04,0.92,0.72,0.42,0.72,0.92,0.77,0.5],
  [1.1,1.1,1.0,0.8,0.5,0.8,1.0,0.85,0.6],
  [1.1,1.1,1.05,0.88,0.58,0.88,1.05,0.92,0.7],
  [1.1,1.1,1.1,0.96,0.66,0.96,1.1,1.0,0.8],
  [1.1,1.1,1.1,1.04,0.75,1.04,1.1,1.05,0.9],
  [1.1,1.1,1.1,1.1,0.84,1.1,1.1,1.1,1.0],
  [1.1,1.1,1.1,1.1,0.93,1.1,1.1,1.1,1.05],
  [0.55,0.62,0.72,0.85,1.0,1.1,1.1,1.1,1.1],
  [0.6,0.7,0.8,0.92,1.05,1.1,1.1,1.1,1.1],
  [0.85,0.88,0.92,0.98,1.02,1.0,0.95,0.9,0.95],
  [0.5,0.55,0.6,0.58,0.55,0.6,0.65,0.6,0.5],
  [0.7,0.75,0.8,0.85,0.9,0.88,0.82,0.78,0.75],
  [0.45,0.48,0.52,0.5,0.48,0.52,0.55,0.45,0.3]
];

// ---- CoTiSb/CoVSn, TiSb|Co
var p10 = [
  [0.75,0.78,0.78,0.65,0.28,0.62,0.8,0.75,0.6],
  [0.78,0.8,0.82,0.7,0.36,0.68,0.83,0.8,0.65],
  [0.8,0.83,0.85,0.74,0.44,0.72,0.86,0.84,0.7],
  [0.83,0.86,0.88,0.78,0.52,0.76,0.88,0.88,0.75],
  [0.86,0.88,0.9,0.82,0.6,0.8,0.9,0.92,0.8],
  [0.88,0.9,0.92,0.85,0.68,0.84,0.92,0.95,0.85],
  [0.9,0.92,0.94,0.88,0.76,0.88,0.94,0.98,0.9],
  [0.76,0.79,0.8,0.68,0.32,0.65,0.82,0.78,0.62],
  [0.79,0.82,0.84,0.72,0.4,0.7,0.85,0.82,0.68],
  [0.82,0.85,0.87,0.76,0.48,0.74,0.87,0.86,0.72],
  [0.85,0.87,0.89,0.8,0.56,0.78,0.89,0.9,0.78],
  [0.87,0.89,0.91,0.84,0.64,0.82,0.91,0.94,0.82],
  [0.7,0.75,0.82,0.88,0.92,0.88,0.8,0.65,0.45],
  [1.4,1.4,1.4,1.4,1.3,1.1,0.85,0.6,0.4],
  [1.4,1.4,1.4,1.4,1.3,1.15,0.9,0.68,0.5],
  [1.4,1.4,1.4,1.4,1.3,1.2,0.95,0.75,0.6],
  [1.0,0.95,0.92,0.95,1.0,0.98,0.95,0.97,1.0],
  [0.95,1.02,1.05,1.0,0.9,0.95,1.0,1.05,1.05],
  [1.05,1.0,0.95,0.9,0.95,1.02,1.05,1.0,0.95],
  [0.9,0.92,0.96,1.05,1.1,1.1,1.1,1.1,1.1],
  [-0.33,-0.38,-0.42,-0.4,-0.4,-0.48,-0.6,-0.5,-0.35],
  [-0.36,-0.42,-0.48,-0.46,-0.45,-0.53,-0.65,-0.55,-0.4],
  [-0.4,-0.46,-0.53,-0.52,-0.5,-0.58,-0.7,-0.6,-0.45],
  [-0.45,-0.52,-0.6,-0.6,-0.58,-0.64,-0.75,-0.65,-0.5],
  [-0.5,-0.58,-0.68,-0.68,-0.66,-0.7,-0.8,-0.7,-0.55],
  [-0.55,-0.63,-0.74,-0.75,-0.74,-0.78,-0.86,-0.75,-0.6],
  [-0.6,-0.68,-0.8,-0.82,-0.82,-0.85,-0.92,-0.82,-0.66],
  [-0.36,-0.45,-0.6,-0.78,-0.9,-0.85,-0.72,-0.58,-0.4],
  [-0.4,-0.5,-0.66,-0.84,-0.98,-0.92,-0.78,-0.62,-0.45],
  [-0.65,-0.7,-0.75,-0.72,-0.65,-0.72,-0.9,-0.95,-0.8],
  [-0.7,-0.76,-0.85,-0.9,-0.9,-0.9,-0.95,-0.88,-0.72],
  [-0.78,-0.84,-0.92,-0.96,-0.98,-0.96,-1.0,-0.95,-0.8],
  [-0.88,-0.92,-0.98,-1.02,-1.05,-1.02,-1.05,-1.02,-0.9],
  [-1.1,-1.05,-0.95,-0.85,-0.8,-0.85,-0.98,-1.05,-1.0],
  [-1.1,-1.1,-1.02,-0.95,-0.92,-0.95,-1.05,-1.1,-1.05],
  [-0.42,-0.5,-0.58,-0.56,-0.54,-0.6,-0.72,-0.62,-0.47],
  [-0.52,-0.6,-0.7,-0.72,-0.7,-0.74,-0.82,-0.72,-0.57],
  [-0.62,-0.7,-0.82,-0.86,-0.86,-0.88,-0.95,-0.85,-0.7],
  [-0.45,-0.55,-0.72,-0.9,-1.05,-1.0,-0.85,-0.68,-0.5],
  [-0.75,-0.8,-0.88,-0.94,-0.95,-0.94,-0.98,-0.9,-0.76]
];

// ---- CoTiSb/NiTiSn, TiSb|Ni
var p11 = [
  [0.55,0.45,0.25,0.0,-0.2,0.05,0.2,0.1,-0.14],
  [0.65,0.55,0.38,0.15,-0.01,0.12,0.3,0.18,-0.05],
  [0.72,0.62,0.45,0.22,0.05,0.2,0.4,0.3,0.05],
  [0.78,0.7,0.52,0.28,0.1,0.28,0.5,0.42,0.15],
  [0.84,0.76,0.58,0.34,0.15,0.34,0.56,0.5,0.25],
  [0.88,0.8,0.64,0.4,0.2,0.4,0.62,0.58,0.32],
  [0.9,0.84,0.7,0.46,0.26,0.46,0.68,0.65,0.4],
  [0.94,0.88,0.75,0.52,0.32,0.52,0.74,0.72,0.5],
  [0.98,0.92,0.8,0.58,0.38,0.58,0.8,0.78,0.6],
  [1.02,0.96,0.85,0.64,0.44,0.64,0.85,0.84,0.7],
  [1.05,1.0,0.9,0.7,0.5,0.7,0.9,0.9,0.8],
  [1.1,1.05,0.95,0.76,0.56,0.76,0.95,0.96,0.9],
  [1.1,1.1,1.0,0.82,0.62,0.82,1.0,1.02,1.0],
  [1.1,1.1,1.05,0.88,0.7,0.88,1.05,1.08,1.1],
  [1.1,1.1,1.1,0.95,0.78,0.95,1.1,1.1,1.1],
  [0.75,0.8,0.88,0.95,1.05,1.1,1.1,1.1,1.1],
  [0.85,0.9,0.95,1.0,1.05,1.1,1.1,1.1,1.1],
  [0.95,0.98,1.02,1.0,0.95,0.98,1.02,1.05,1.1],
  [-0.85,-0.78,-0.68,-0.56,-0.47,-0.6,-0.8,-1.1,-1.1],
  [-0.9,-0.83,-0.74,-0.63,-0.55,-0.67,-0.86,-1.1,-1.1],
  [-0.95,-0.88,-0.8,-0.7,-0.62,-0.74,-0.92,-1.1,-1.1],
  [-1.0,-0.94,-0.86,-0.77,-0.7,-0.81,-0.98,-1.1,-1.1],
  [-1.05,-1.0,-0.93,-0.85,-0.78,-0.88,-1.04,-1.1,-1.1],
  [-1.1,-1.06,-1.0,-0.92,-0.85,-0.95,-1.1,-1.1,-1.1],
  [-1.1,-1.1,-1.06,-0.99,-0.93,-1.02,-1.1,-1.1,-1.1],
  [-1.1,-1.05,-0.9,-0.7,-0.5,-0.65,-0.85,-1.05,-1.1],
  [-1.1,-1.1,-1.0,-0.8,-0.6,-0.78,-0.98,-1.1,-1.1]
];

// ---- CoVSn/NiTiSn, VSn|Ni
var p12Up = [
  [-0.03,-0.05,-0.08,-0.14,-0.17,-0.05,0.12,0.1,-0.12],
  [0.14,0.16,0.1,-0.02,-0.1,0.02,0.17,0.12,-0.1],
  [0.0,0.05,0.1,0.05,-0.05,0.05,0.15,0.15,-0.05],
  [0.2,0.25,0.3,0.15,0.0,0.15,0.25,0.2,0.0],
  [-0.7,-0.72,-0.8,-0.94,-1.08,-1.1,-1.1,-1.1,-1.1],
  [-1.1,-1.02,-0.85,-0.64,-0.47,-0.64,-0.88,-1.1,-1.1],
  [-0.86,-0.88,-0.9,-0.88,-0.86,-0.88,-0.9,-0.88,-0.86],
  [-0.95,-0.97,-0.99,-0.97,-0.95,-0.97,-0.99,-0.97,-0.95]
];
var p12Dn = [
  [-1.1,-1.0,-0.82,-0.6,-0.43,-0.6,-0.85,-1.1,-1.1],
  [-1.1,-1.05,-0.88,-0.67,-0.5,-0.67,-0.92,-1.1,-1.1],
  [-1.1,-1.1,-0.94,-0.74,-0.57,-0.74,-0.98,-1.1,-1.1],
  [-1.1,-1.1,-1.0,-0.81,-0.64,-0.81,-1.04,-1.1,-1.1],
  [-1.1,-1.1,-1.05,-0.88,-0.72,-0.88,-1.1,-1.1,-1.1],
  [-0.68,-0.7,-0.78,-0.92,-1.05,-1.1,-1.1,-1.1,-1.1],
  [-0.72,-0.75,-0.83,-0.96,-1.1,-1.1,-1.1,-1.1,-1.1],
  [-0.78,-0.8,-0.88,-1.0,-1.1,-1.1,-1.1,-1.1,-1.1],
  [-0.84,-0.86,-0.93,-1.05,-1.1,-1.1,-1.1,-1.1,-1.1],
  [-1.1,-1.1,-1.1,-1.1,-1.1,-0.95,-0.72,-0.95,-0.73],
  [-1.1,-1.1,-1.1,-1.1,-1.1,-1.0,-0.78,-1.0,-0.78],
  [-1.1,-1.1,-1.1,-1.1,-1.1,-1.05,-0.84,-1.05,-0.84],
  [-0.88,-0.9,-0.92,-0.9,-0.88,-0.9,-0.92,-0.9,-0.88],
  [-0.93,-0.95,-0.97,-0.95,-0.92,-0.95,-0.97,-0.95,-0.93],
  [-0.98,-1.0,-1.02,-1.0,-0.97,-1.0,-1.02,-1.0,-0.98],
  [-0.9,-0.95,-1.0,-0.95,-0.9,-0.95,-1.0,-0.95,-0.9],
  [-1.0,-0.95,-0.9,-0.95,-1.0,-0.95,-0.9,-0.95,-1.0],
  [0.6,0.6,0.5,0.25,-0.05,0.25,0.5,0.35,-0.05],
  [0.66,0.66,0.57,0.32,0.02,0.32,0.57,0.42,0.03],
  [0.72,0.72,0.63,0.38,0.08,0.38,0.63,0.48,0.1],
  [0.78,0.78,0.69,0.44,0.14,0.44,0.69,0.54,0.18],
  [0.84,0.84,0.75,0.5,0.2,0.5,0.75,0.6,0.26],
  [0.9,0.9,0.82,0.57,0.27,0.57,0.82,0.67,0.35],
  [0.96,0.96,0.89,0.64,0.34,0.64,0.89,0.74,0.44],
  [1.02,1.02,0.96,0.72,0.42,0.72,0.96,0.82,0.54],
  [1.08,1.08,1.03,0.8,0.5,0.8,1.03,0.9,0.64],
  [1.1,1.1,1.1,0.88,0.58,0.88,1.1,0.98,0.74],
  [1.1,1.1,1.1,0.96,0.66,0.96,1.1,1.05,0.84],
  [1.1,1.1,1.1,1.04,0.75,1.04,1.1,1.1,0.94],
  [1.1,1.1,1.1,1.1,0.84,1.1,1.1,1.1,1.04],
  [0.22,0.3,0.42,0.55,0.7,0.8,0.9,1.0,1.05],
  [0.3,0.38,0.48,0.6,0.75,0.85,0.95,1.05,1.1],
  [0.38,0.46,0.55,0.65,0.8,0.9,1.0,1.1,1.1],
  [0.45,0.5,0.58,0.7,0.85,0.95,1.05,1.1,1.1],
  [0.5,0.55,0.62,0.72,0.88,1.0,1.1,1.1,1.1],
  [0.25,0.35,0.48,0.62,0.78,0.88,0.95,1.0,1.05]
];

// panels in reading order
var panels = [
  {up: p1Up, dn: p1Dn}, {up: p2Up, dn: p2Dn}, {up: p3Up, dn: p3Dn},
  {single: p4}, {single: p5}, {single: p6},
  {up: p7Up, dn: p7Dn}, {up: p8Up, dn: p8Dn}, {up: p9Up, dn: p9Dn},
  {single: p10}, {single: p11}, {up: p12Up, dn: p12Dn}
];

(function(){

  var W = 830
  , H = 483
  , pw = 110
  , ph = 216
  , colStep = 130.5
  , left0 = 60
  , rowTops = [17, 246]
  , blue = "#1f66f2"
  , red = "#ec1018"
  , x = d3.scaleLinear().domain([0, 1]).range([0, pw])
  , y = d3.scaleLinear().domain([-1.045, 1.06]).range([ph, 0])
  , line = d3.line()
      .x(function(d, i){ return x(kPath[i]); })
      .y(function(d){ return y(d); })
      .curve(d3.curveMonotoneX)
  , svg;

  svg = d3.select("#chart").append("svg")
    .attr("width", W)
    .attr("height", H);

  svg.append("rect").attr("width", W).attr("height", H).attr("fill", "#eeebe7");

  panels.forEach(function(p, i){
    var row = Math.floor(i / 6)
    , col = i % 6
    , g = svg.append("g")
        .attr("transform", "translate(" + (left0 + col * colStep) + "," + rowTops[row] + ")")
    , body
    , sets
    , lab
    , bb;

    g.append("clipPath").attr("id", "clip" + i)
      .append("rect").attr("width", pw).attr("height", ph);

    g.append("rect").attr("width", pw).attr("height", ph).attr("fill", "#fff");

    body = g.append("g").attr("clip-path", "url(#clip" + i + ")");

    if (p.single) {
      sets = [{bands: p.single, color: "#000", w: 1.0}];
    } else {
      sets = [{bands: p.up, color: blue, w: 1.35}, {bands: p.dn, color: red, w: 1.35}];
    }

    sets.forEach(function(s){
      body.selectAll(null)
        .data(s.bands)
        .enter()
        .append("path")
        .attr("d", line)
        .attr("fill", "none")
        .attr("stroke", s.color)
        .attr("stroke-width", s.w);
    });

    // Γ line and Fermi level
    body.append("line")
      .attr("x1", x(xTickPos[1])).attr("x2", x(xTickPos[1]))
      .attr("y1", 0).attr("y2", ph)
      .attr("stroke", "#666").attr("stroke-width", 1);

    body.append("line")
      .attr("x1", 0).attr("x2", pw)
      .attr("y1", y(0)).attr("y2", y(0))
      .attr("stroke", "#222").attr("stroke-width", 1.1)
      .attr("stroke-dasharray", "4,2.5");

    // label box top-right
    lab = g.append("text")
      .attr("x", pw - 4)
      .attr("y", 15)
      .attr("text-anchor", "end")
      .attr("font-size", 12.2)
      .attr("fill", "#000")
      .text(labels[i]);
    bb = lab.node().getBBox();
    g.insert("rect", "text")
      .attr("x", bb.x - 2.5).attr("y", bb.y)
      .attr("width", bb.width + 5).attr("height", bb.height)
      .attr("rx", 2)
      .attr("fill", "#fff");

    // frame
    g.append("rect").attr("width", pw).attr("height", ph)
      .attr("fill", "none").attr("stroke", "#222").attr("stroke-width", 0.9);

    if (row === 0) {
      g.append("text")
        .attr("x", pw / 2).attr("y", -3)
        .attr("text-anchor", "middle")
        .attr("font-size", 14.7)
        .text(titles[col]);
    }

    if (col === 0) {
      yTicks.forEach(function(t){
        g.append("line")
          .attr("x1", -3.5).attr("x2", 0)
          .attr("y1", y(t)).attr("y2", y(t))
          .attr("stroke", "#222").attr("stroke-width", 0.8);
        g.append("text")
          .attr("x", -6.5).attr("y", y(t) + 4.6)
          .attr("text-anchor", "end")
          .attr("font-size", 12.8)
          .text(d3.format(".1f")(t));
      });
      g.append("text")
        .attr("transform", "translate(-45," + y(0) + ") rotate(-90)")
        .attr("text-anchor", "middle")
        .attr("font-size", 14.5)
        .text("Energy (eV)");
    }

    if (row === 1) {
      xTickPos.forEach(function(t, j){
        g.append("line")
          .attr("x1", x(t)).attr("x2", x(t))
          .attr("y1", ph).attr("y2", ph + 3.5)
          .attr("stroke", "#222").attr("stroke-width", 0.8);
        g.append("text")
          .attr("x", x(t)).attr("y", ph + 16.5)
          .attr("text-anchor", "middle")
          .attr("font-size", 13.2)
          .text(xTickLabels[j]);
      });
    }

    // legend inside first panel
    if (i === 0) {
      [blue, red].forEach(function(c, j){
        var ly = 83.5 + j * 10.5;
        g.append("line")
          .attr("x1", 27).attr("x2", 41.5)
          .attr("y1", ly).attr("y2", ly)
          .attr("stroke", c).attr("stroke-width", 1.4);
        g.append("text")
          .attr("x", 51).attr("y", ly + 3.5)
          .attr("font-size", 10.5)
          .attr("fill", c)
          .text(legendLabels[j]);
      });
    }
  });

}());
</script>
</body>
</html>
